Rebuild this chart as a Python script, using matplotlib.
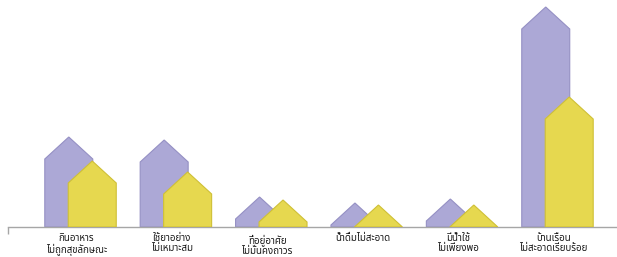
import matplotlib
matplotlib.use("Agg")
import matplotlib.pyplot as plt
from matplotlib.patches import Polygon
from matplotlib.ticker import FixedLocator
import numpy as np

# Data (arbitrary units)
categories = [
    "กินอาหาร\nไม่ถูกสุขลักษณะ",
    "ใช้ยาอย่าง\nไม่เหมาะสม",
    "ที่อยู่อาศัย\nไม่มั่นคงถาวร",
    "น้ำดื่มไม่สะอาด",
    "มีน้ำใช้\nไม่เพียงพอ",
    "บ้านเรือน\nไม่สะอาดเรียบร้อย",
]
series_a = [90, 87, 30, 24, 28, 220]
series_b = [66, 55, 27, 22, 22, 130]

purple = "#aca8d6"
purple_edge = "#9590c4"
yellow = "#e6d84f"
yellow_edge = "#cfc036"

plt.rcParams["font.family"] = ["Noto Sans Thai", "DejaVu Sans"]

fig = plt.figure(figsize=(6.17, 2.57), dpi=100)
ax = fig.add_axes([0, 30 / 257, 1, 227 / 257])
ax.set_xlim(-0.844, 5.624)
ax.set_ylim(0, 227)

bar_w = 0.503
offset = 0.123
roof_px = 22

# convert roof height in pixels to data units
fig.canvas.draw()
ax_h_px = ax.get_window_extent().height
roof = roof_px * (ax.get_ylim()[1] - ax.get_ylim()[0]) / ax_h_px


def house(xc, h, face, edge, z):
    x0, x1 = xc - bar_w / 2, xc + bar_w / 2
    r = min(roof, h)
    pts = [(x0, 0), (x0, h - r), (xc, h), (x1, h - r), (x1, 0)]
    ax.add_patch(Polygon(pts, closed=True, facecolor=face, edgecolor=edge, linewidth=0.8, zorder=z))


x = np.arange(len(categories))
for i in range(len(categories)):
    house(x[i] - offset, series_a[i], purple, purple_edge, 2)
    house(x[i] + offset, series_b[i], yellow, yellow_edge, 3)

for s in ["top", "right", "left"]:
    ax.spines[s].set_visible(False)
ax.spines["bottom"].set_bounds(-0.76, 5.624)
ax.spines["bottom"].set_color("#a6a6a6")
ax.spines["bottom"].set_linewidth(1.0)
ax.set_yticks([])

ax.set_xticks(x - 0.045)
ax.set_xticklabels(categories, fontsize=7, fontweight="bold", linespacing=1.15, color="#1a1a1a")
ax.tick_params(axis="x", which="major", length=0, pad=5)
ax.xaxis.set_minor_locator(FixedLocator([-0.76]))
ax.tick_params(axis="x", which="minor", length=5, width=1.0, color="#a6a6a6")

fig.savefig("out.png", dpi=100)
